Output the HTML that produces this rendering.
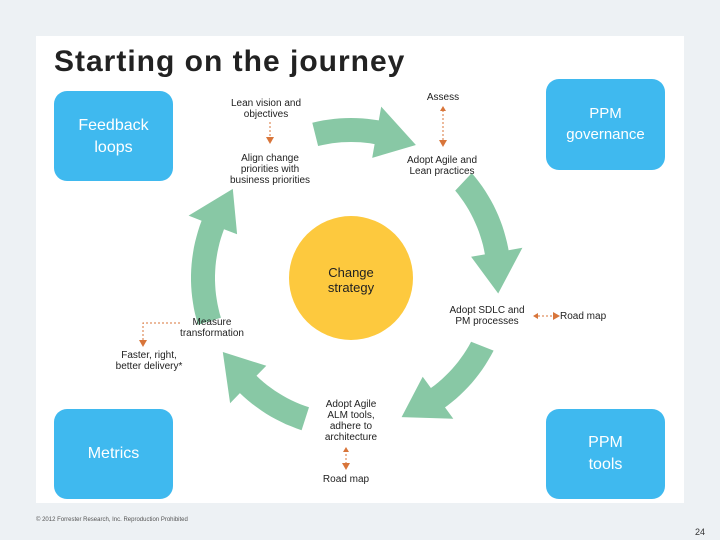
<!DOCTYPE html><html><head><style>
body{margin:0;width:720px;height:540px;background:#edf1f4;position:relative;overflow:hidden;font-family:"Liberation Sans",sans-serif}
.panel{position:absolute;left:36px;top:36px;width:648px;height:467px;background:#fff}
.b{position:absolute;background:#3fb9ef;border-radius:13px;color:#fff;font-size:16px;text-align:center;display:flex;align-items:center;justify-content:center;line-height:22px}
.t{position:absolute;font-size:10px;color:#222;text-align:center;line-height:11px;white-space:nowrap}
</style></head><body>
<div class="panel"></div>
<div style="position:absolute;left:54px;top:45px;font-size:30px;letter-spacing:1px;font-weight:bold;color:#222">Starting on the journey</div>
<div class="b" style="left:54px;top:91px;width:119px;height:90px;align-items:flex-start;padding-top:0"><div style="margin-top:24px">Feedback<br>loops</div></div>
<div class="b" style="left:546px;top:79px;width:119px;height:91px;align-items:flex-start;font-size:15px;line-height:21px"><div style="margin-top:24px">PPM<br>governance</div></div>
<div class="b" style="left:54px;top:409px;width:119px;height:90px">Metrics</div>
<div class="b" style="left:546px;top:409px;width:119px;height:90px;align-items:flex-start"><div style="margin-top:23px">PPM<br>tools</div></div>
<svg id="s" width="720" height="540" style="position:absolute;left:0;top:0">
<circle cx="351" cy="278" r="62" fill="#fdc93e"/>
<g stroke="#d8753a" stroke-width="1" stroke-dasharray="2,2" fill="none">
<line x1="270" y1="122" x2="270" y2="137"/><line x1="443" y1="110" x2="443" y2="140"/>
<line x1="538" y1="316" x2="553" y2="316"/><line x1="346" y1="450" x2="346" y2="465"/>
<polyline points="180,323 143,323 143,340"/></g>
<g fill="#d8753a">
<polygon points="266,137 274,137 270,144"/><polygon points="439,140 447,140 443,147"/><polygon points="440,111 446,111 443,106"/>
<polygon points="553,312 553,320 560,316"/><polygon points="538,313 538,319 533,316"/>
<polygon points="342,463 350,463 346,470"/><polygon points="343,452 349,452 346,447"/>
<polygon points="139,340 147,340 143,347"/></g>
</svg>
<div class="t" style="left:351px;top:265px;transform:translateX(-50%);font-size:13px;line-height:15px">Change<br>strategy</div>
<div class="t" style="left:266px;top:98px;transform:translateX(-50%)">Lean vision and<br>objectives</div>
<div class="t" style="left:270px;top:153px;transform:translateX(-50%)">Align change<br>priorities with<br>business priorities</div>
<div class="t" style="left:443px;top:92px;transform:translateX(-50%)">Assess</div>
<div class="t" style="left:442px;top:155px;transform:translateX(-50%)">Adopt Agile and<br>Lean practices</div>
<div class="t" style="left:487px;top:305px;transform:translateX(-50%)">Adopt SDLC and<br>PM processes</div>
<div class="t" style="left:560px;top:311px">Road map</div>
<div class="t" style="left:212px;top:317px;transform:translateX(-50%)">Measure<br>transformation</div>
<div class="t" style="left:149px;top:350px;transform:translateX(-50%)">Faster, right,<br>better delivery*</div>
<div class="t" style="left:351px;top:399px;transform:translateX(-50%)">Adopt Agile<br>ALM tools,<br>adhere to<br>architecture</div>
<div class="t" style="left:346px;top:474px;transform:translateX(-50%)">Road map</div>
<div style="position:absolute;left:36px;top:517px;font-size:6px;color:#555">© 2012 Forrester Research, Inc. Reproduction Prohibited</div>
<div style="position:absolute;left:695px;top:527px;font-size:9px;color:#333">24</div>
<script>
var s=document.getElementById('s'),cx=351,cy=278,R=148,w=12,hw=26,hl=16;
function P(a,r){a=a*Math.PI/180;return (cx+r*Math.cos(a)).toFixed(1)+','+(cy+r*Math.sin(a)).toFixed(1)}
[[-104,-64],[-41,6],[27,70],[108,150],[163,217]].forEach(function(d){
var a1=d[0],a2=d[1]-hl,pts=[];
for(var a=a1;a<=a2;a+=2)pts.push(P(a,R+w));
pts.push(P(a2,R+w),P(a2,R+hw),P(d[1],R),P(a2,R-hw),P(a2,R-w));
for(var a=a2;a>=a1;a-=2)pts.push(P(a,R-w));
var p=document.createElementNS('http://www.w3.org/2000/svg','polygon');
p.setAttribute('points',pts.join(' '));p.setAttribute('fill','#88c8a5');s.insertBefore(p,s.firstChild.nextSibling);
});
</script>
</body></html>
